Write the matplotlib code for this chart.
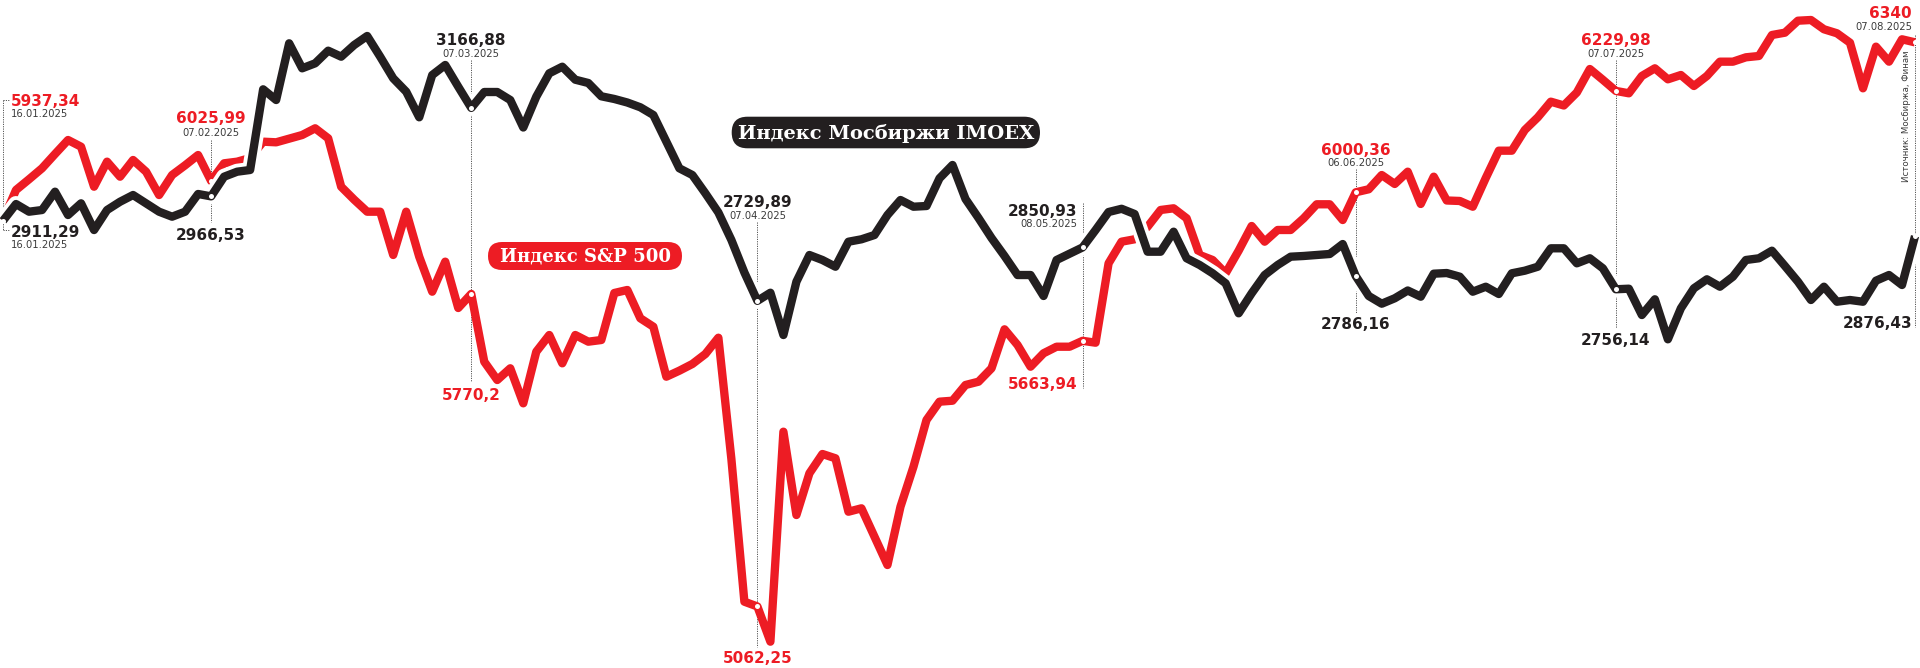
import matplotlib
matplotlib.use("Agg")
import matplotlib.pyplot as plt
import matplotlib.patheffects as pe
import matplotlib.transforms as mtransforms
from matplotlib.patches import FancyBboxPatch

# ---------------- data ----------------
sp500 = [5937.34, 6005.6, 6029.8, 6054.7, 6087.1, 6118.8, 6103.6, 6013.0, 6069.7, 6035.7,
         6073.5, 6047.0, 5994.2, 6039.5, 6061.5, 6084.8, 6025.99, 6066.0, 6069.7, 6078.0,
         6115.0, 6113.6, 6121.8, 6130.1, 6145.3, 6122.7, 6013.0, 5983.6, 5956.4, 5956.4,
         5858.4, 5956.4, 5854.5, 5775.2, 5843.2, 5738.3, 5770.2, 5616.7, 5575.2, 5601.7,
         5522.4, 5639.3, 5677.1, 5613.0, 5677.1, 5662.0, 5665.8, 5772.3, 5779.1, 5715.0,
         5695.9, 5582.7, 5596.3, 5611.5, 5634.1, 5671.0, 5396.3, 5073.1, 5062.25, 4982.5,
         5458.1, 5269.4, 5363.9, 5407.6, 5397.9, 5276.9, 5284.6, 5220.3, 5156.2, 5288.2,
         5378.8, 5484.6, 5526.1, 5528.3, 5563.9, 5571.4, 5601.7, 5690.0, 5654.5, 5605.3,
         5635.7, 5650.6, 5650.6, 5663.94, 5659.7, 5839.5, 5888.5, 5893.9, 5922.4, 5960.3,
         5964.1, 5941.5, 5858.4, 5847.0, 5816.9, 5868.1, 5924.0, 5888.5, 5915.0, 5915.0,
         5941.5, 5973.2, 5973.2, 5937.6, 6000.36, 6007.2, 6039.5, 6019.2, 6047.0, 5973.9,
         6035.7, 5981.8, 5980.7, 5967.7, 6032.8, 6094.6, 6094.6, 6141.5, 6170.2, 6205.6,
         6197.0, 6226.4, 6279.6, 6255.2, 6229.98, 6224.6, 6263.8, 6281.2, 6256.3, 6266.0,
         6241.1, 6263.8, 6296.2, 6296.2, 6306.1, 6309.1, 6356.6, 6361.9, 6389.0, 6390.6,
         6369.6, 6360.5, 6339.2, 6235.9, 6330.2, 6296.2, 6346.9, 6340.0]

imoex = [2911.29, 2949.2, 2931.8, 2935.6, 2977.1, 2924.3, 2950.8, 2890.3, 2935.6, 2954.4,
         2969.6, 2950.8, 2931.8, 2920.5, 2931.8, 2971.9, 2966.53, 3011.1, 3022.4, 3026.3,
         3209.0, 3184.8, 3313.2, 3256.6, 3267.9, 3296.5, 3282.9, 3309.4, 3329.8, 3282.9,
         3233.9, 3203.6, 3145.6, 3241.4, 3264.1, 3214.9, 3166.88, 3202.9, 3202.9, 3184.8,
         3122.5, 3192.3, 3245.3, 3260.2, 3230.8, 3223.3, 3193.2, 3187.1, 3179.1, 3168.3,
         3150.8, 3090.4, 3030.1, 3014.9, 2973.5, 2930.0, 2867.7, 2794.1, 2729.89, 2748.3,
         2652.5, 2773.3, 2833.7, 2822.4, 2807.2, 2863.8, 2869.3, 2879.0, 2924.3, 2958.3,
         2943.1, 2944.7, 3007.4, 3037.6, 2960.6, 2917.5, 2872.2, 2831.5, 2788.4, 2788.4,
         2740.9, 2822.4, 2836.7, 2850.93, 2890.3, 2931.1, 2938.4, 2926.6, 2841.2, 2841.2,
         2886.5, 2826.3, 2811.1, 2792.3, 2769.6, 2701.7, 2747.0, 2788.4, 2811.1, 2829.9,
         2831.5, 2833.7, 2836.0, 2858.6, 2786.16, 2740.9, 2723.4, 2735.7, 2753.3, 2739.3,
         2791.4, 2792.9, 2784.6, 2750.6, 2761.9, 2745.4, 2792.3, 2798.2, 2807.2, 2848.9,
         2848.9, 2814.9, 2826.3, 2803.6, 2756.14, 2757.4, 2697.8, 2733.4, 2642.8, 2713.0,
         2758.3, 2778.7, 2761.9, 2784.6, 2822.4, 2826.3, 2843.5, 2808.8, 2773.3, 2731.8,
         2761.9, 2727.9, 2731.8, 2727.9, 2775.5, 2788.4, 2765.8, 2876.43]

ann_idx = [0, 16, 36, 58, 83, 104, 124, 147]
ann_dates = ["16.01.2025", "07.02.2025", "07.03.2025", "07.04.2025",
             "08.05.2025", "06.06.2025", "07.07.2025", "07.08.2025"]

label_sp = "Индекс S&P 500"
label_imoex = "Индекс Мосбиржи IMOEX"
source = "Источник: Мосбиржа, Финам"

# ---------------- layout (pixel coordinates, y from top) ----------------
W, H = 1920, 668
RED = "#ED1C24"
BLK = "#231F20"
DATE_C = "#3C3C3C"

# per annotation: (ha, x offset px, red baseline, red date baseline, black baseline,
#                  black date baseline, dashed top, dashed bottom)
layout = [
    ("left",   8, 106, 117, 237, 248.5, 100, 230),
    ("center", 0, 123, 136, 240, None, 140, 222),
    ("center", 0, 400, None, 45, 57, 60, 382),
    ("center", 0, 663, None, 207, 219, 222, 647),
    ("right", -5, 389, None, 216, 227, 203, 388),
    ("center", 0, 155, 166, 329, None, 169, 313),
    ("center", 0, 45, 57, 345, None, 60, 328),
    ("right", -3, 18.5, 30.5, 328, None, 35, 327),
]


def fmt(v):
    s = f"{v:.2f}".rstrip("0").rstrip(".")
    return s.replace(".", ",")


fig = plt.figure(figsize=(W / 100, H / 100), dpi=100)
ax_r = fig.add_axes([0, 0, 1, 1])
ax_b = ax_r.twinx()
ov = fig.add_axes([0, 0, 1, 1])
ov.set_xlim(0, W)
ov.set_ylim(H, 0)
ov.axis("off")
ov.patch.set_visible(False)

x = list(range(len(sp500)))
ax_r.set_xlim(-0.2306, 147.384)
ax_r.set_ylim(4922.9, 6435.9)
ax_b.set_ylim(1898.3, 3411.3)
for a in (ax_r, ax_b):
    a.axis("off")

LW = 6.0
ax_r.plot(x, sp500, color=RED, lw=LW, solid_joinstyle="round",
          solid_capstyle="butt", zorder=3)
ax_r.plot(ann_idx, [sp500[i] for i in ann_idx], "o", ms=3.6, mfc="white",
          mec="none", zorder=4)

ax_b.plot(x, imoex, color=BLK, lw=LW, solid_joinstyle="round",
          solid_capstyle="butt", zorder=3,
          path_effects=[pe.Stroke(linewidth=LW + 5.5, foreground="white"),
                        pe.Normal()])
ax_b.plot(ann_idx, [imoex[i] for i in ann_idx], "o", ms=3.6, mfc="white",
          mec="none", zorder=4)

# dashed guide lines (x in data, y in pixels)
tr_lines = mtransforms.blended_transform_factory(ax_r.transData, ov.transData)
fig.canvas.draw()


def px_of(i):
    return ax_r.transData.transform((i, 0))[0]


for k, i in enumerate(ann_idx):
    ha, dx, rb, rdb, bb, bdb, top, bot = layout[k]
    ax_r.plot([i, i], [top, bot], transform=tr_lines, color="#555555",
              lw=0.7, ls=(0, (1.2, 1.2)), zorder=1)
    if k == 0:
        x0 = px_of(i)
        ov.plot([x0, x0 + 7], [top, top], color="#555555", lw=0.7,
                ls=(0, (1.2, 1.2)))
        ov.plot([x0, x0 + 7], [bot, bot], color="#555555", lw=0.7,
                ls=(0, (1.2, 1.2)))
    xp = px_of(i) + dx
    ov.text(xp, rb, fmt(sp500[i]), color=RED, fontsize=11, fontweight="bold",
            ha=ha, va="baseline", family="DejaVu Sans")
    if rdb is not None:
        ov.text(xp, rdb, ann_dates[k], color=DATE_C, fontsize=7.2,
                ha=ha, va="baseline", family="DejaVu Sans")
    ov.text(xp, bb, fmt(imoex[i]), color=BLK, fontsize=11, fontweight="bold",
            ha=ha, va="baseline", family="DejaVu Sans")
    if bdb is not None:
        ov.text(xp, bdb, ann_dates[k], color=DATE_C, fontsize=7.2,
                ha=ha, va="baseline", family="DejaVu Sans")

# badges
def badge(x0, y0, w, h, color, text, fs):
    ov.add_patch(FancyBboxPatch((x0, y0), w, h,
                                boxstyle=f"round,pad=0,rounding_size={h / 2}",
                                fc=color, ec="none", zorder=5))
    ov.text(x0 + w / 2, y0 + h / 2 + 1, text, color="white", fontsize=fs,
            fontweight="bold", family="DejaVu Serif", ha="center",
            va="center", zorder=6)


badge(731.7, 116.7, 308.3, 31.6, BLK, label_imoex, 14)
badge(488, 242, 194, 28, RED, label_sp, 13)

ov.text(1906.5, 116, source, rotation=90, fontsize=6.2, color=DATE_C,
        ha="center", va="center", family="DejaVu Sans")

fig.savefig("out.png", dpi=100)
